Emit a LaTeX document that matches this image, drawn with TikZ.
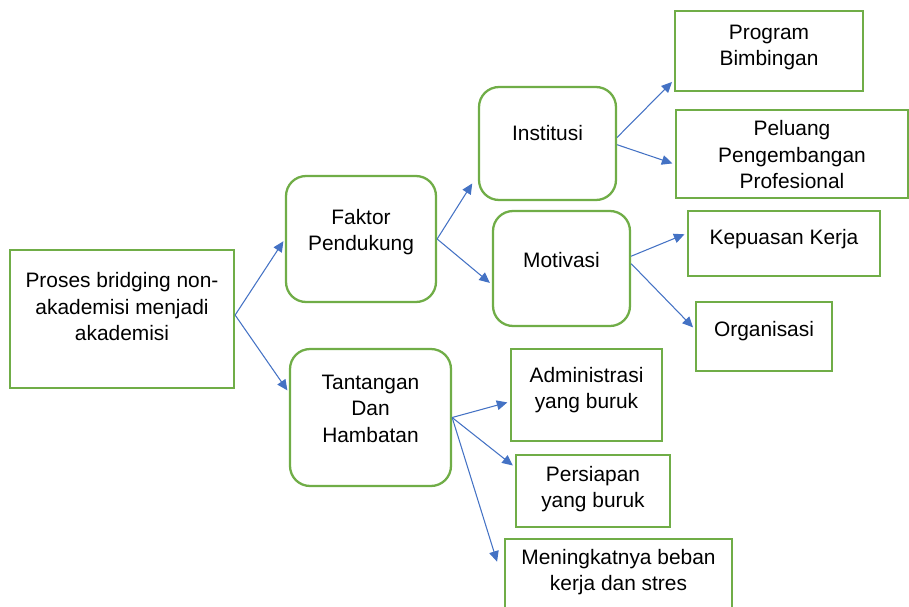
\documentclass[tikz,border=0pt]{standalone}
\usepackage{fontspec}
\setmainfont{Liberation Sans}
\usetikzlibrary{arrows.meta}
\definecolor{boxgreen}{HTML}{70AD47}
\definecolor{arrowblue}{HTML}{4472C4}
% text raised inside its box by the extra depth given (twice the lift)
\newcommand{\liftedtext}[2]{\begin{tabular}{@{}c@{}}#2\\[#1]\end{tabular}}

\begin{document}
\begin{tikzpicture}[x=0.02cm,y=-0.02cm]
    \tikzstyle{every node}+=[font=\fontsize{11.9}{15}\selectfont, inner sep=0pt]
    \tikzstyle{sqbox}=[draw=boxgreen, line width=1.3pt]
    \tikzstyle{rndbox}=[sqbox, rounded corners=0.4cm]
    \tikzstyle{link}=[draw=arrowblue, line width=0.6pt, -{Triangle[length=6pt,width=5.5pt]}, shorten >=1.5pt]
    \clip (0,0) rectangle (909,606);
    \node [sqbox, minimum width=4.48cm, minimum height=2.76cm] (root) at (122,319) {\liftedtext{11.3pt}{Proses bridging non-\\akademisi menjadi\\akademisi}};
    \node [rndbox, minimum width=3cm, minimum height=2.52cm] (faktor) at (361,239) {\liftedtext{8pt}{Faktor\\Pendukung}};
    \node [rndbox, minimum width=3.22cm, minimum height=2.74cm] (tantangan) at (370.5,417.5) {\liftedtext{8pt}{Tantangan\\Dan\\Hambatan}};
    \node [rndbox, minimum width=2.74cm, minimum height=2.26cm] (institusi) at (547.5,143.5) {\liftedtext{9pt}{Institusi}};
    \node [rndbox, minimum width=2.74cm, minimum height=2.3cm] (motivasi) at (561.5,268.5) {\liftedtext{6.8pt}{Motivasi}};
    \node [sqbox, minimum width=3.76cm, minimum height=1.6cm] (program) at (769,51) {\liftedtext{4.5pt}{Program\\Bimbingan}};
    \node [sqbox, minimum width=4.64cm, minimum height=1.76cm] (peluang) at (792,154) {\liftedtext{-3.4pt}{Peluang\\Pengembangan\\Profesional}};
    \node [sqbox, minimum width=3.84cm, minimum height=1.3cm] (kepuasan) at (784,243.5) {\liftedtext{4.5pt}{Kepuasan Kerja}};
    \node [sqbox, minimum width=2.72cm, minimum height=1.38cm] (organisasi) at (764,336.5) {\liftedtext{5.7pt}{Organisasi}};
    \node [sqbox, minimum width=3.02cm, minimum height=1.84cm] (admin) at (586.5,395) {\liftedtext{5.7pt}{Administrasi\\yang buruk}};
    \node [sqbox, minimum width=3.08cm, minimum height=1.44cm] (persiapan) at (593,491) {\liftedtext{2.3pt}{Persiapan\\yang buruk}};
    \node [sqbox, minimum width=4.54cm, minimum height=1.62cm] (meningkat) at (618.5,579.5) {\liftedtext{8pt}{Meningkatnya beban\\kerja dan stres}};
    \draw [link] (root.2) -- (faktor.west);
    \draw [link] (root.2) -- (tantangan.163);
    \draw [link, shorten >=6pt] (faktor.east) -- (institusi.204);
    \draw [link] (faktor.east) -- (motivasi.193);
    \draw [link] (institusi.5) -- (program.197);
    \draw [link] (institusi.-1) -- (peluang.185);
    \draw [link] (motivasi.10) -- (kepuasan.174);
    \draw [link] (motivasi.4) -- (organisasi.174);
    \draw [link] (tantangan.east) -- (admin.185);
    \draw [link] (tantangan.east) -- (persiapan.163);
    \draw [link, shorten >=13pt] (tantangan.east) -- (meningkat.182);
\end{tikzpicture}
\end{document}
